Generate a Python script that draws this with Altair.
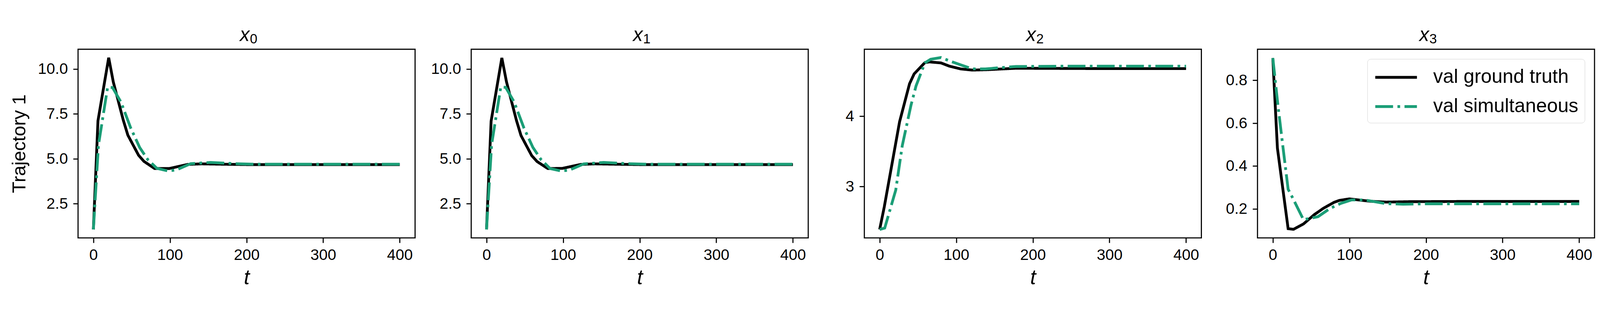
import altair as alt
import pandas as pd

SERIES = ["val ground truth", "val simultaneous"]
COLORS = ["#000000", "#1b9e77"]
DASHES = [[1, 0], [53, 13, 8, 13]]
TITLE_VAR = "x"
TITLE_SUBS = ["0", "1", "2", "3"]
X_TICKS = [0, 100, 200, 300, 400]

# x0
X0_T_TRUE = [0, 6, 20, 26, 39, 45, 59, 66, 80, 99, 123, 141, 170, 200, 250, 300, 350, 400]
X0_V_TRUE = [1.07, 7.12, 10.63, 9.28, 7.16, 6.32, 5.20, 4.86, 4.46, 4.46, 4.69, 4.72, 4.70, 4.68, 4.68, 4.68, 4.68, 4.68]
X0_T_SIM = [0, 6.6, 18.6, 25, 36, 49, 60.5, 71, 83, 97, 108, 127, 153, 185, 210, 250, 300, 350, 400]
X0_V_SIM = [1.07, 5.76, 8.99, 8.97, 8.16, 6.69, 5.63, 4.96, 4.47, 4.33, 4.38, 4.73, 4.80, 4.73, 4.70, 4.70, 4.70, 4.70, 4.70]

# x1
X1_T_TRUE = [0, 6, 20, 26, 39, 45, 59, 66, 80, 99, 123, 141, 170, 200, 250, 300, 350, 400]
X1_V_TRUE = [1.07, 7.10, 10.62, 9.30, 7.15, 6.30, 5.18, 4.85, 4.46, 4.47, 4.69, 4.72, 4.70, 4.68, 4.68, 4.68, 4.68, 4.68]
X1_T_SIM = [0, 6.6, 18.6, 25, 36, 49, 60.5, 71, 83, 97, 108, 127, 153, 185, 210, 250, 300, 350, 400]
X1_V_SIM = [1.07, 5.78, 9.00, 8.98, 8.17, 6.70, 5.64, 4.97, 4.46, 4.33, 4.37, 4.72, 4.80, 4.73, 4.70, 4.70, 4.70, 4.70, 4.70]

# x2
X2_T_TRUE = [0, 6, 26, 39, 45, 59, 65, 80, 91, 106, 121, 141, 178, 250, 300, 350, 400]
X2_V_TRUE = [2.39, 2.71, 3.92, 4.46, 4.60, 4.76, 4.77, 4.756, 4.71, 4.67, 4.654, 4.66, 4.68, 4.677, 4.675, 4.675, 4.675]
X2_T_SIM = [0, 6.6, 21, 29.5, 41, 47.5, 59, 66.5, 80, 94, 107.5, 121, 138, 159, 178, 250, 300, 350, 400]
X2_V_SIM = [2.39, 2.41, 2.95, 3.58, 4.16, 4.43, 4.756, 4.807, 4.832, 4.773, 4.722, 4.671, 4.67, 4.69, 4.705, 4.71, 4.71, 4.71, 4.71]

# x3
X3_T_TRUE = [0, 6, 20, 27, 40, 54, 66, 80, 87, 100, 112, 127, 148, 178, 250, 300, 350, 400]
X3_V_TRUE = [0.904, 0.484, 0.108, 0.105, 0.130, 0.173, 0.203, 0.231, 0.240, 0.247, 0.242, 0.236, 0.232, 0.234, 0.235, 0.235, 0.235, 0.235]
X3_T_SIM = [0, 6.7, 13.3, 20, 26.7, 40, 59, 75, 89.5, 102.6, 120, 147, 170, 200, 250, 300, 350, 400]
X3_V_SIM = [0.904, 0.683, 0.487, 0.292, 0.246, 0.150, 0.164, 0.203, 0.227, 0.242, 0.242, 0.225, 0.222, 0.224, 0.224, 0.224, 0.224, 0.224]

Y_DOMAINS = [[0.6, 11.1], [0.6, 11.1], [2.27, 4.95], [0.065, 0.945]]
Y_TICKS = [[2.5, 5.0, 7.5, 10.0], [2.5, 5.0, 7.5, 10.0], [3, 4], [0.2, 0.4, 0.6, 0.8]]
Y_FORMATS = [".1f", ".1f", "d", ".1f"]

FONT = "Liberation Sans"
PW, PH = 1003, 561
Y_EXTENT = 120


def panel(i, t_true, v_true, t_sim, v_sim, show_ytitle, show_legend):
    df = pd.DataFrame({
        "t": list(t_true) + list(t_sim),
        "v": list(v_true) + list(v_sim),
        "series": [SERIES[0]] * len(t_true) + [SERIES[1]] * len(t_sim),
        "k": list(range(len(t_true))) + list(range(len(t_sim))),
    })
    if show_legend:
        legend = alt.Legend(
            title=None, orient="top-right", offset=29,
            symbolType="M-1,0H3", symbolSize=3844, symbolStrokeWidth=8.3,
            symbolFillColor="transparent",
            labelFont=FONT, labelFontSize=58, labelColor="black",
            labelOffset=106, rowPadding=22, padding=19,
            strokeColor="#cccccc", fillColor="rgba(255,255,255,0.8)",
            cornerRadius=10, labelLimit=1000,
        )
    else:
        legend = None
    yaxis_kwargs = dict(values=Y_TICKS[i], format=Y_FORMATS[i],
                        minExtent=Y_EXTENT, maxExtent=Y_EXTENT)
    yaxis_kwargs["title"] = "Trajectory 1" if show_ytitle else None
    base = alt.Chart(df).encode(
        x=alt.X("t:Q", scale=alt.Scale(domain=[-20, 420], nice=False, zero=False),
                axis=alt.Axis(values=X_TICKS, format="d", title="t", titleFontStyle="italic",
                              titleFontSize=62)),
        y=alt.Y("v:Q", scale=alt.Scale(domain=Y_DOMAINS[i], nice=False, zero=False),
                axis=alt.Axis(**yaxis_kwargs)),
        color=alt.Color("series:N", scale=alt.Scale(domain=SERIES, range=COLORS), legend=legend),
        strokeDash=alt.StrokeDash("series:N", scale=alt.Scale(domain=SERIES, range=DASHES), legend=legend),
        order="k:Q",
    )
    black = base.transform_filter(alt.datum.series == SERIES[0]).mark_line(strokeWidth=8.3)
    green = base.transform_filter(alt.datum.series == SERIES[1]).mark_line(strokeWidth=8.3)

    tdf = pd.DataFrame({"var": [TITLE_VAR], "sub": [TITLE_SUBS[i]]})
    tvar = alt.Chart(tdf).mark_text(
        font=FONT, fontSize=58, fontStyle="italic", align="right", baseline="alphabetic", color="black"
    ).encode(text="var:N", x=alt.value(PW / 2 + 9), y=alt.value(-25))
    tsub = alt.Chart(tdf).mark_text(
        font=FONT, fontSize=40, align="left", baseline="alphabetic", color="black"
    ).encode(text="sub:N", x=alt.value(PW / 2 + 10), y=alt.value(-17))

    return alt.layer(black, green, tvar, tsub).properties(width=PW, height=PH)


panels = [
    panel(0, X0_T_TRUE, X0_V_TRUE, X0_T_SIM, X0_V_SIM, True, False),
    panel(1, X1_T_TRUE, X1_V_TRUE, X1_T_SIM, X1_V_SIM, False, False),
    panel(2, X2_T_TRUE, X2_V_TRUE, X2_T_SIM, X2_V_SIM, False, False),
    panel(3, X3_T_TRUE, X3_V_TRUE, X3_T_SIM, X3_V_SIM, False, True),
]

chart = alt.hconcat(*panels, spacing=167, bounds="flush").resolve_scale(
    color="independent", strokeDash="independent"
).properties(
    padding={"left": 19, "top": 0, "right": 5, "bottom": 5},
    background="white",
).configure_view(
    stroke="black", strokeWidth=3.3, fill="white"
).configure_axis(
    domain=False, grid=False,
    tickColor="black", tickWidth=3.3, tickSize=14.6,
    labelFont=FONT, labelFontSize=46, labelColor="black",
    titleFont=FONT, titleFontSize=56, titleFontWeight="normal", titleColor="black",
).configure_axisX(
    labelPadding=15, titlePadding=13
).configure_axisY(
    labelPadding=16, titlePadding=25
)

chart.save("out.html", embed_options={"renderer": "svg", "actions": False})
